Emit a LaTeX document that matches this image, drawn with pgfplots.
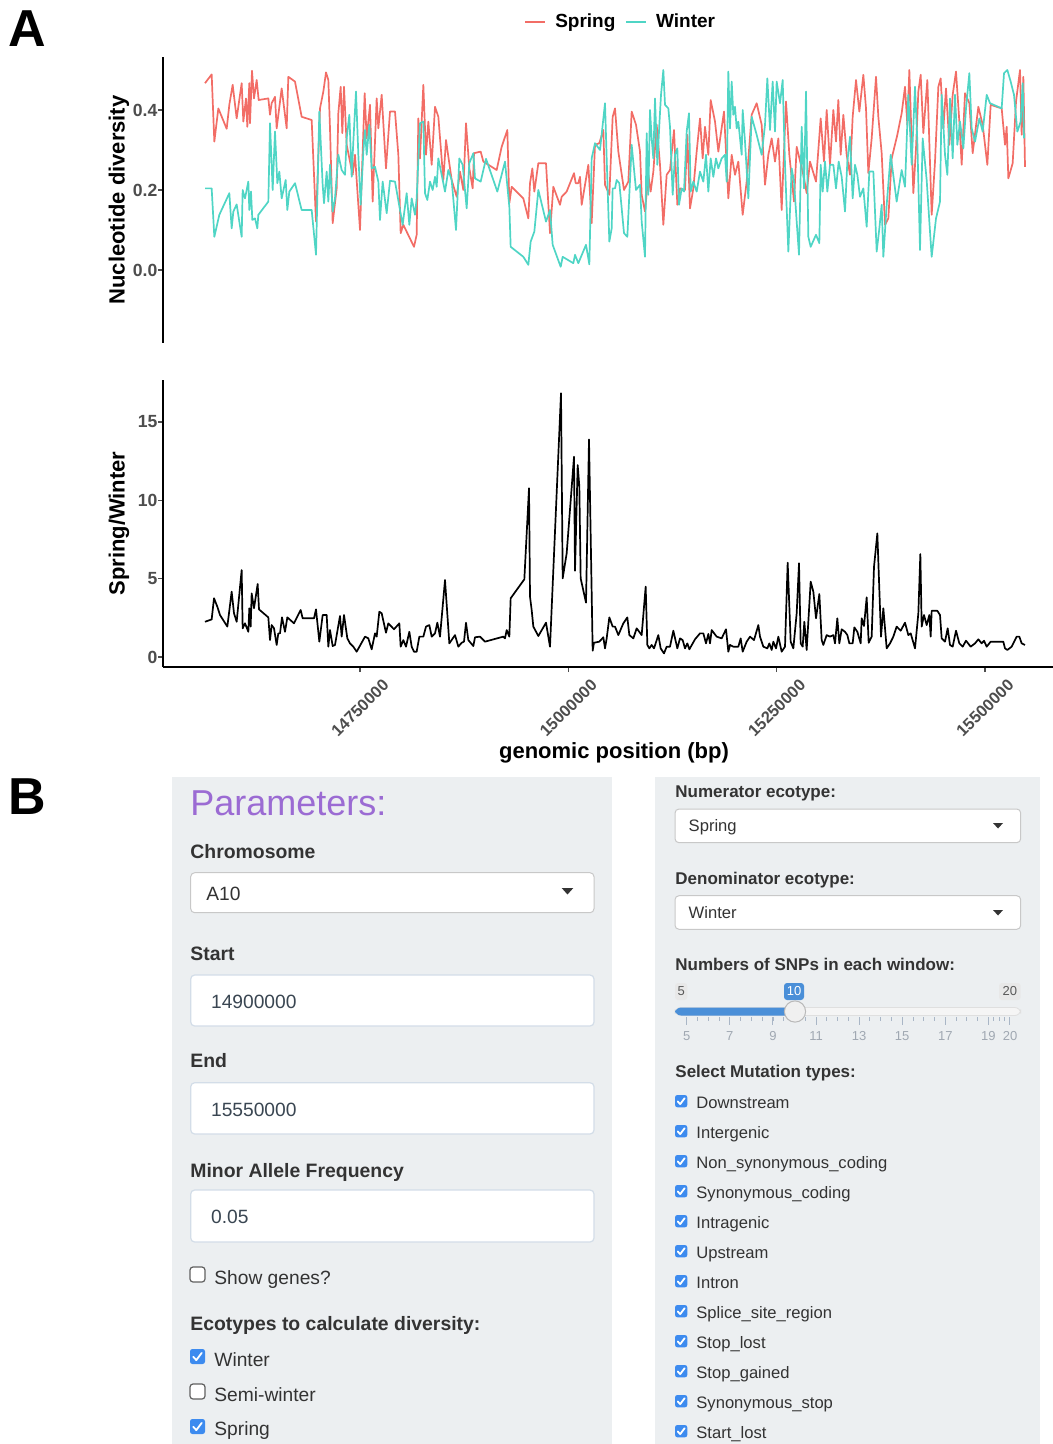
\documentclass[border=0pt]{standalone}
\usepackage{fontspec}
\setmainfont{Liberation Sans}
\setsansfont{Liberation Sans}
\usepackage{pgfplots}
\pgfplotsset{compat=1.18}
\definecolor{springc}{HTML}{F26D66}
\definecolor{winterc}{HTML}{4FD5C5}
\definecolor{tickgrey}{HTML}{4D4D4D}
\definecolor{panelbg}{HTML}{ECEFF1}
\definecolor{uitext}{HTML}{333333}
\definecolor{inputtext}{HTML}{3A4652}
\definecolor{purp}{HTML}{9B6BD3}
\definecolor{cbblue}{HTML}{3D8BEF}
\definecolor{slblue}{HTML}{4A8FD8}
\definecolor{boxborder}{HTML}{C8C8C8}
\definecolor{inborder}{HTML}{D3DDE8}
\definecolor{slgrid}{HTML}{A9B6C6}
\definecolor{sltext}{HTML}{A0A8B2}

\newcommand{\chkbox}[3]{%
  \fill[cbblue, rounded corners=1.2pt] (#1,#2) rectangle ++(#3,#3);
  \draw[white, line width=0.9pt, line cap=round, line join=round]
    (#1,#2) ++({0.22*#3},{0.52*#3}) -- ++({0.2*#3},{0.22*#3}) -- ++({0.36*#3},{-0.48*#3});}
\newcommand{\unchk}[3]{%
  \draw[gray!75!black, fill=white, rounded corners=1.5pt, line width=0.6pt] (#1,#2) rectangle ++(#3,#3);}

\begin{document}
\begin{tikzpicture}[x=0.5pt,y=-0.5pt]
\pgfplotsset{
  myax/.style={scale only axis, width=445pt, xmin=14513.6, xmax=15581.6,
    axis line style={black, line width=0.7pt, -},
    tick style={tickgrey, line width=0.6pt},
    tick align=outside, major tick length=2.5pt,
    ticklabel style={font=\fontsize{8.8}{10}\selectfont\bfseries, text=tickgrey},
    yticklabel style={inner sep=0.6pt, xshift=0.5pt},
    ylabel style={font=\fontsize{11}{12}\selectfont\bfseries, at={(axis description cs:-0.0494,0.5)}, anchor=center},
    every axis plot/.append style={line width=0.85pt, line join=round},
  }
}
% ---------------- Panel A, top ----------------
\begin{axis}[myax, at={(81.5pt,-171.5pt)}, anchor=south west, height=143pt,
  ymin=-0.1825, ymax=0.5325, axis x line=none, axis y line*=left,
  ytick={0,0.2,0.4}, yticklabels={0.0,0.2,0.4},
  ylabel={Nucleotide diversity},
  legend style={at={(0.5155,1.122)}, anchor=center, draw=none, fill=none,
    legend columns=2, font=\fontsize{9.5}{10}\selectfont\bfseries,
    /tikz/every odd column/.append style={column sep=2.5pt},
    /tikz/every even column/.append style={column sep=3pt}},
  legend image code/.code={\draw[#1] (0pt,0pt) -- (10pt,0pt);},
]
\addplot[springc] coordinates {(14564,0.467)(14572,0.489)(14575.2,0.321)(14580,0.404)(14590,0.353)(14593.2,0.413)(14597.2,0.463)(14602,0.379)(14608,0.467)(14610,0.371)(14613.2,0.429)(14614.8,0.358)(14617.2,0.467)(14618,0.367)(14620.4,0.498)(14622.8,0.429)(14626,0.475)(14628.4,0.425)(14640,0.429)(14642,0.388)(14644,0.417)(14648,0.433)(14650,0.354)(14656,0.454)(14662,0.354)(14664,0.483)(14672,0.471)(14680,0.383)(14692,0.375)(14697.2,0.121)(14702,0.404)(14706,0.446)(14709.2,0.494)(14712,0.475)(14714,0.354)(14717.2,0.117)(14722,0.204)(14724,0.392)(14726.8,0.458)(14728.8,0.342)(14730.8,0.458)(14734,0.313)(14741.2,0.238)(14744,0.288)(14750,0.100)(14755.6,0.442)(14758,0.329)(14762,0.413)(14765.2,0.171)(14770,0.429)(14772,0.354)(14776,0.438)(14781.2,0.254)(14786,0.396)(14792,0.396)(14796,0.288)(14798.8,0.092)(14802,0.113)(14814.8,0.058)(14818,0.088)(14820,0.379)(14822,0.279)(14826,0.463)(14829.2,0.288)(14832,0.371)(14836,0.263)(14840,0.408)(14844,0.383)(14850,0.225)(14853.2,0.325)(14860,0.225)(14866,0.183)(14870,0.246)(14874,0.200)(14877.2,0.367)(14881.2,0.254)(14885.2,0.204)(14886.8,0.292)(14894.8,0.296)(14898,0.271)(14914,0.250)(14920,0.308)(14926.8,0.350)(14929.2,0.167)(14932,0.208)(14946,0.179)(14952,0.129)(14954,0.217)(14956.8,0.254)(14959.2,0.196)(14964,0.267)(14973.2,0.267)(14978,0.092)(14982,0.208)(14990,0.163)(14992,0.183)(14998,0.196)(15006.8,0.242)(15008.8,0.217)(15012,0.217)(15014,0.233)(15016,0.163)(15024,0.263)(15028,0.117)(15032,0.313)(15037.2,0.317)(15042,0.350)(15044,0.213)(15049.2,0.188)(15053.2,0.383)(15056,0.404)(15060,0.296)(15066.8,0.200)(15072,0.221)(15076,0.396)(15081.2,0.363)(15086,0.296)(15088,0.188)(15092,0.146)(15096,0.238)(15098.8,0.196)(15102,0.246)(15106,0.363)(15110,0.263)(15114,0.113)(15118,0.238)(15122,0.250)(15126.8,0.350)(15130.8,0.163)(15134,0.204)(15140,0.200)(15142.8,0.338)(15146,0.154)(15150,0.204)(15154,0.296)(15158,0.379)(15161.2,0.279)(15164,0.358)(15168,0.288)(15170.8,0.425)(15176,0.371)(15180,0.296)(15182.8,0.338)(15186.8,0.396)(15192,0.179)(15196,0.288)(15200,0.238)(15204,0.271)(15209.2,0.138)(15214,0.221)(15220,0.388)(15226,0.417)(15232,0.363)(15236,0.213)(15240,0.288)(15244,0.329)(15248,0.271)(15252,0.329)(15256,0.150)(15261.2,0.421)(15265.2,0.288)(15270.8,0.171)(15274,0.308)(15282,0.238)(15286,0.192)(15290,0.271)(15297.2,0.221)(15302.8,0.379)(15306.8,0.271)(15310,0.400)(15314,0.263)(15318,0.400)(15321.2,0.321)(15324,0.425)(15326.8,0.288)(15330,0.388)(15334,0.288)(15338,0.238)(15341.2,0.383)(15345.2,0.475)(15349.2,0.396)(15354,0.488)(15357.2,0.404)(15360,0.242)(15364,0.329)(15369.2,0.483)(15372,0.383)(15376,0.292)(15380,0.113)(15384,0.129)(15388,0.279)(15394.8,0.338)(15400,0.392)(15404,0.458)(15406.8,0.363)(15409.2,0.500)(15414,0.192)(15417.2,0.304)(15420,0.446)(15422.8,0.488)(15426,0.342)(15430.8,0.475)(15436,0.138)(15440,0.271)(15444,0.458)(15446.8,0.479)(15450,0.354)(15453.2,0.454)(15457.2,0.313)(15461.2,0.438)(15465.2,0.496)(15469.2,0.371)(15472,0.263)(15476,0.442)(15481.2,0.417)(15485.2,0.292)(15492,0.408)(15497.2,0.363)(15502.8,0.263)(15506.8,0.413)(15520,0.404)(15524,0.313)(15526,0.358)(15528,0.229)(15533.2,0.267)(15537.2,0.421)(15542,0.500)(15544,0.338)(15546,0.483)(15548,0.258)};
\addlegendentry{Spring}
\addplot[winterc] coordinates {(14564,0.204)(14572,0.204)(14575.2,0.083)(14581.2,0.138)(14593.2,0.192)(14596,0.104)(14598,0.146)(14602,0.164)(14608,0.083)(14609.2,0.200)(14612,0.179)(14616,0.221)(14617.2,0.150)(14619.2,0.196)(14620.8,0.125)(14624,0.129)(14626.8,0.104)(14628,0.138)(14640,0.171)(14642,0.367)(14645.2,0.200)(14648,0.346)(14650.8,0.217)(14653.2,0.246)(14656,0.179)(14660.8,0.225)(14662.8,0.150)(14665.2,0.196)(14672,0.217)(14680,0.150)(14692,0.150)(14697.2,0.038)(14701.2,0.396)(14705.2,0.213)(14706.8,0.167)(14710,0.246)(14712,0.171)(14714,0.263)(14717.2,0.146)(14720,0.179)(14724,0.288)(14728,0.250)(14732,0.238)(14734,0.329)(14737.2,0.388)(14740,0.233)(14742,0.321)(14745.2,0.446)(14748,0.288)(14750.8,0.163)(14754,0.296)(14756,0.350)(14758,0.288)(14761.2,0.363)(14764,0.254)(14768,0.258)(14772,0.221)(14774,0.125)(14777.2,0.221)(14782,0.142)(14786,0.223)(14792,0.221)(14798,0.150)(14801.2,0.113)(14806,0.192)(14809.2,0.113)(14812,0.179)(14816,0.138)(14818,0.179)(14822,0.367)(14826,0.371)(14828,0.192)(14830.8,0.175)(14834,0.221)(14837.2,0.200)(14840,0.233)(14842,0.208)(14844,0.279)(14850,0.217)(14852,0.196)(14856,0.250)(14860,0.225)(14865.2,0.100)(14869.2,0.279)(14873.2,0.263)(14878,0.154)(14881.2,0.267)(14886,0.292)(14888,0.229)(14894.8,0.221)(14901.2,0.278)(14914.8,0.196)(14924,0.271)(14929.2,0.158)(14930.8,0.058)(14946,0.033)(14952,0.013)(14954.8,0.071)(14959.2,0.096)(14964,0.200)(14973.2,0.121)(14978,0.150)(14981.2,0.063)(14990.8,0.008)(14993.2,0.033)(15006,0.017)(15008,0.038)(15012,0.017)(15021.2,0.063)(15025.2,0.014)(15028,0.279)(15032,0.317)(15038,0.300)(15044,0.417)(15046,0.279)(15049.2,0.071)(15052,0.104)(15053.2,0.204)(15056,0.204)(15058,0.225)(15061.2,0.217)(15066.8,0.092)(15070.8,0.083)(15076,0.313)(15081.2,0.200)(15086,0.213)(15088,0.121)(15092,0.033)(15094,0.342)(15096,0.188)(15098,0.400)(15100,0.329)(15102,0.279)(15104,0.429)(15106.8,0.263)(15109.2,0.363)(15111.2,0.438)(15114,0.500)(15116,0.413)(15120,0.404)(15122,0.358)(15125.2,0.188)(15128,0.288)(15130.8,0.304)(15132.8,0.163)(15136,0.204)(15138.8,0.196)(15142,0.346)(15144.8,0.392)(15146.8,0.196)(15150,0.221)(15154,0.196)(15158,0.246)(15162,0.221)(15165.2,0.288)(15168,0.196)(15170.8,0.279)(15174,0.233)(15177.2,0.279)(15180,0.254)(15184,0.279)(15188,0.288)(15190,0.221)(15192,0.496)(15194,0.354)(15196,0.471)(15198,0.388)(15200,0.408)(15202,0.354)(15204,0.371)(15208,0.288)(15209.2,0.400)(15212,0.321)(15216,0.179)(15220,0.383)(15226,0.338)(15232,0.288)(15236,0.363)(15238.8,0.479)(15242,0.350)(15245.2,0.471)(15248,0.346)(15250,0.471)(15254,0.417)(15257.2,0.475)(15260,0.263)(15264,0.046)(15268,0.254)(15270.8,0.221)(15274,0.121)(15276.8,0.038)(15280,0.358)(15282.8,0.204)(15285.2,0.446)(15288,0.083)(15290.8,0.058)(15297.2,0.088)(15301.2,0.067)(15302.8,0.263)(15305.2,0.196)(15308,0.271)(15310.8,0.196)(15314,0.263)(15318,0.263)(15321.2,0.204)(15324.4,0.271)(15328,0.233)(15332,0.146)(15334.8,0.271)(15338,0.333)(15341.2,0.179)(15344,0.263)(15346.8,0.238)(15350,0.183)(15354,0.204)(15358,0.108)(15361.2,0.246)(15366,0.246)(15370,0.046)(15373.2,0.104)(15376,0.163)(15378,0.033)(15382,0.163)(15386.8,0.288)(15394,0.171)(15400,0.250)(15404,0.208)(15408,0.438)(15412,0.263)(15416,0.458)(15418.8,0.321)(15422,0.050)(15425.2,0.329)(15430,0.225)(15433.2,0.121)(15436,0.033)(15441.2,0.129)(15446,0.171)(15448,0.438)(15452,0.288)(15454.8,0.238)(15458,0.429)(15461.2,0.279)(15464,0.438)(15466.8,0.313)(15470,0.371)(15474,0.304)(15477.2,0.404)(15481.2,0.492)(15484,0.354)(15488,0.321)(15493.2,0.379)(15497.2,0.346)(15502,0.438)(15506,0.417)(15520,0.404)(15522.8,0.492)(15526.8,0.500)(15530.8,0.471)(15534.8,0.438)(15538.8,0.346)(15542.8,0.371)(15545.2,0.467)(15546.8,0.329)};
\addlegendentry{Winter}
\end{axis}
% ---------------- Panel A, bottom ----------------
\begin{axis}[myax, at={(81.5pt,-333.5pt)}, anchor=south west, height=143.5pt,
  ymin=-0.638, ymax=17.68, axis x line*=bottom, axis y line*=left,
  ytick={0,5,10,15}, yticklabels={0,5,10,15},
  xtick={14750,15000,15250,15500},
  xticklabels={14750000,15000000,15250000,15500000},
  xticklabel style={font=\fontsize{8.2}{9}\selectfont\bfseries, yshift=-18pt, rotate=45, anchor=center},
  ylabel={Spring/Winter},
  xlabel={genomic position (bp)},
  xlabel style={font=\fontsize{11}{12}\selectfont\bfseries, at={(axis description cs:0.5067,-0.298)}, anchor=center},
]
\addplot[black] coordinates {(14564,2.25)(14572,2.40)(14574.8,3.75)(14578.8,3.21)(14582,2.68)(14590.8,1.94)(14596,4.17)(14598.8,2.79)(14602,2.25)(14608,5.55)(14609.2,1.83)(14612,2.15)(14616,1.61)(14617.2,3.11)(14618.8,1.94)(14620,4.06)(14622.8,3.11)(14627.2,4.66)(14628.8,3.04)(14640,2.53)(14642,1.08)(14644,2.04)(14646.8,1.83)(14650,0.77)(14652,1.51)(14654,1.51)(14656.4,2.53)(14660,1.61)(14662.8,2.53)(14670.8,2.15)(14678.8,3.00)(14681.2,2.47)(14694.8,2.47)(14697.2,3.04)(14701.2,0.98)(14705.2,2.68)(14710,2.68)(14712,0.66)(14714,1.72)(14717.2,0.70)(14720,0.77)(14726,2.62)(14728,1.30)(14730.8,2.68)(14734.8,1.19)(14738,0.87)(14742,0.66)(14746,0.34)(14756,1.30)(14760,1.19)(14764,0.49)(14768,1.51)(14770,1.30)(14773.2,2.89)(14776,2.79)(14781.2,1.55)(14784,2.15)(14790.8,1.77)(14797.2,2.15)(14798.8,0.66)(14802,1.08)(14805.2,0.66)(14809.2,1.61)(14812,0.66)(14814.8,0.34)(14818,0.34)(14821.2,1.30)(14826,1.30)(14829.2,1.94)(14833.2,2.04)(14836,1.30)(14840,1.51)(14842.8,2.19)(14846,1.30)(14852,4.91)(14857.2,0.87)(14864,1.40)(14868,0.66)(14872,0.91)(14874.8,0.98)(14877.2,2.19)(14880,1.08)(14886,0.70)(14888,1.26)(14894,1.30)(14900,0.98)(14922,1.30)(14924,1.19)(14926,1.72)(14929.2,1.30)(14930.8,3.75)(14947.2,4.96)(14952.8,10.77)(14954,3.85)(14956,3.00)(14958,1.94)(14964,1.34)(14973.2,2.19)(14978,0.66)(14991.2,16.83)(14993.2,5.02)(14998,6.62)(15006.8,12.78)(15008,5.51)(15011.2,12.25)(15013.2,10.87)(15014.8,5.02)(15021.2,3.47)(15024.8,13.89)(15029.2,0.40)(15030.8,0.91)(15037.2,0.98)(15042,1.26)(15044,0.55)(15046,1.19)(15049.2,2.53)(15053.2,1.94)(15056,1.94)(15060,1.40)(15066,2.15)(15070.8,2.53)(15073.2,1.40)(15078,1.19)(15082,1.83)(15088,1.40)(15092.8,4.49)(15094.8,0.77)(15097.2,0.55)(15100,0.77)(15102.8,0.55)(15108,1.40)(15110.8,0.55)(15114.8,0.23)(15118,0.66)(15122,0.66)(15126,1.68)(15130.8,0.55)(15134,1.19)(15137.2,1.08)(15140,0.55)(15142.8,0.87)(15145.2,0.49)(15152,1.13)(15158,1.51)(15162,1.51)(15165.2,0.87)(15168,1.47)(15170,0.87)(15172,1.72)(15178,1.30)(15184,1.19)(15189.2,1.77)(15192,0.34)(15194,0.77)(15198,0.66)(15204,0.66)(15206.8,1.19)(15209.2,0.34)(15214,0.98)(15218,1.30)(15222.8,1.08)(15228,2.04)(15230,1.30)(15234,0.66)(15238.8,0.55)(15241.2,0.87)(15244,0.45)(15246,0.98)(15249.2,0.55)(15252,1.30)(15256,0.34)(15260,0.66)(15263.2,6.02)(15266.8,0.98)(15270,0.55)(15274,2.79)(15276.8,5.98)(15278.8,0.87)(15281.2,0.66)(15283.2,2.25)(15286,0.45)(15290.8,4.81)(15294,4.17)(15297.2,2.47)(15301.2,4.02)(15304,1.08)(15306,0.77)(15310,1.40)(15314,1.30)(15318,1.40)(15320,0.87)(15322.8,2.47)(15325.2,0.87)(15328,1.77)(15332,1.61)(15334.8,1.40)(15337.2,0.87)(15341.2,0.87)(15343.2,1.89)(15346.8,1.61)(15350.8,0.87)(15352,2.47)(15354.8,1.98)(15358,3.81)(15360.4,0.91)(15364,1.30)(15366.8,5.76)(15370.8,7.89)(15375.2,1.30)(15378,3.11)(15382,0.55)(15386,0.87)(15390,1.30)(15394,1.94)(15398.8,1.68)(15404,2.19)(15408,1.40)(15410.8,1.51)(15416,0.55)(15420,2.79)(15422.4,6.57)(15424,1.94)(15426.8,2.68)(15430,2.04)(15433.2,2.68)(15434.8,1.30)(15436,2.95)(15442.8,2.95)(15446,2.68)(15448,1.19)(15452,0.98)(15455.2,1.83)(15458,0.77)(15461.2,0.66)(15465.2,1.68)(15469.2,0.87)(15473.2,0.66)(15477.2,1.04)(15482.8,0.66)(15488,0.87)(15492,1.13)(15496,0.87)(15498.8,1.04)(15502,0.66)(15506.8,0.98)(15522,0.98)(15524,0.55)(15526.8,0.45)(15532,0.66)(15538,1.30)(15541.2,1.30)(15544,0.87)(15548,0.77)};
\end{axis}
% panel letters
\node[anchor=base west, inner sep=0, font=\fontsize{26}{28}\selectfont\bfseries] at (8,47) {A};
\node[anchor=base west, inner sep=0, font=\fontsize{26}{28}\selectfont\bfseries] at (8,814) {B};
% ---------------- Panel B, left ----------------
\fill[panelbg] (172,777) rectangle (612,1444);
\fill[panelbg] (655,777) rectangle (1040,1444);
\begin{scope}[every node/.style={anchor=base west, inner sep=0pt}]
\node[text=purp, font=\fontsize{18}{20}\selectfont] at (190,815) {Parameters:};
\node[text=uitext, font=\fontsize{9.7}{11}\selectfont\bfseries] at (190,858) {Chromosome};
\draw[boxborder, fill=white, rounded corners=2pt, line width=0.5pt] (190.7,872.7) rectangle (594,912.7);
\node[text=uitext, font=\fontsize{9.6}{11}\selectfont] at (206,900) {A10};
\fill[uitext] (561.7,888) -- (573.3,888) -- (567.5,894.5) -- cycle;
\node[text=uitext, font=\fontsize{9.7}{11}\selectfont\bfseries] at (190,960.7) {Start};
\draw[inborder, fill=white, rounded corners=2pt, line width=0.6pt] (190.7,975) rectangle (594,1026);
\node[text=inputtext, font=\fontsize{9.6}{11}\selectfont] at (210.7,1008) {14900000};
\node[text=uitext, font=\fontsize{9.7}{11}\selectfont\bfseries] at (190,1067.7) {End};
\draw[inborder, fill=white, rounded corners=2pt, line width=0.6pt] (190.7,1082.7) rectangle (594,1134);
\node[text=inputtext, font=\fontsize{9.6}{11}\selectfont] at (210.7,1116) {15550000};
\node[text=uitext, font=\fontsize{9.7}{11}\selectfont\bfseries] at (190,1177) {Minor Allele Frequency};
\draw[inborder, fill=white, rounded corners=2pt, line width=0.6pt] (190.7,1190) rectangle (594,1242);
\node[text=inputtext, font=\fontsize{9.6}{11}\selectfont] at (210.7,1223) {0.05};
\unchk{190}{1267}{15}
\node[text=uitext, font=\fontsize{9.6}{11}\selectfont] at (214,1284) {Show genes?};
\node[text=uitext, font=\fontsize{9.7}{11}\selectfont\bfseries] at (190,1330) {Ecotypes to calculate diversity:};
\chkbox{190}{1349}{15}
\node[text=uitext, font=\fontsize{9.6}{11}\selectfont] at (214,1366) {Winter};
\unchk{190}{1384}{15}
\node[text=uitext, font=\fontsize{9.6}{11}\selectfont] at (214,1401) {Semi-winter};
\chkbox{190}{1419}{15}
\node[text=uitext, font=\fontsize{9.6}{11}\selectfont] at (214,1435) {Spring};
% ---------------- Panel B, right ----------------
\node[text=uitext, font=\fontsize{8.5}{10}\selectfont\bfseries] at (675,797.3) {Numerator ecotype:};
\draw[boxborder, fill=white, rounded corners=2pt, line width=0.5pt] (675,809) rectangle (1020.7,842.7);
\node[text=uitext, font=\fontsize{8.3}{10}\selectfont] at (688.3,831.7) {Spring};
\fill[uitext] (993,823) -- (1003,823) -- (998,828.5) -- cycle;
\node[text=uitext, font=\fontsize{8.5}{10}\selectfont\bfseries] at (675,884) {Denominator ecotype:};
\draw[boxborder, fill=white, rounded corners=2pt, line width=0.5pt] (675,895.7) rectangle (1020.7,929.3);
\node[text=uitext, font=\fontsize{8.3}{10}\selectfont] at (688.3,918.3) {Winter};
\fill[uitext] (993,910) -- (1003,910) -- (998,915.5) -- cycle;
\node[text=uitext, font=\fontsize{8.5}{10}\selectfont\bfseries] at (675,970) {Numbers of SNPs in each window:};
\node[text=uitext, font=\fontsize{8.5}{10}\selectfont\bfseries] at (675,1077.3) {Select Mutation types:};
\end{scope}
% slider
\fill[gray!18, rounded corners=1.5pt] (675,983) rectangle (687.3,1000);
\node[font=\fontsize{6.5}{7}\selectfont, text=gray!70!black, inner sep=0] at (681.2,991.5) {5};
\fill[slblue, rounded corners=1.5pt] (784,983) rectangle (804,1000);
\node[font=\fontsize{6.5}{7}\selectfont, text=white, inner sep=0] at (794,991.5) {10};
\fill[gray!18, rounded corners=1.5pt] (999,983) rectangle (1020.7,1000);
\node[font=\fontsize{6.5}{7}\selectfont, text=gray!70!black, inner sep=0] at (1009.8,991.5) {20};
\fill[gray!8, draw=gray!25, line width=0.4pt, rounded corners=3pt] (675,1007.5) rectangle (1020.7,1015.5);
\fill[slblue, rounded corners=3pt] (675,1007.5) rectangle (795,1015.5);
\foreach \v in {5.5,6.0,...,19.0} \draw[slgrid, line width=0.4pt] ({686.7+(\v-5)*21.55},1017) -- ++(0,4);
\foreach \v in {19.25,19.5,19.75} \draw[slgrid, line width=0.4pt] ({686.7+(\v-5)*21.55},1017) -- ++(0,4);
\foreach \v in {5,7,...,19,20} \draw[slgrid, line width=0.5pt] ({686.7+(\v-5)*21.55},1017) -- ++(0,8);
\foreach \v in {5,7,...,19} \node[anchor=base, inner sep=0, font=\fontsize{6.5}{7}\selectfont, text=sltext] at ({686.7+(\v-5)*21.55},1040) {\v};
\node[anchor=base, inner sep=0, font=\fontsize{6.5}{7}\selectfont, text=sltext] at (1010,1040) {20};
\draw[gray!55, fill=gray!12, line width=0.5pt] (795,1011.5) circle[radius=5.3pt];
% mutation types
\foreach \t [count=\i from 0] in {Downstream, Intergenic, Non\_synonymous\_coding, Synonymous\_coding, Intragenic, Upstream, Intron, Splice\_site\_region, Stop\_lost, Stop\_gained, Synonymous\_stop, Start\_lost} {
  \chkbox{675}{1095+30*\i}{12.3}
  \node[anchor=base west, inner sep=0, text=uitext, font=\fontsize{8.3}{10}\selectfont] at (696,{1108.3+30*\i}) {\t};
}
\pgfresetboundingbox
\path[use as bounding box] (0,0) rectangle (1053,1444);
\end{tikzpicture}
\end{document}
